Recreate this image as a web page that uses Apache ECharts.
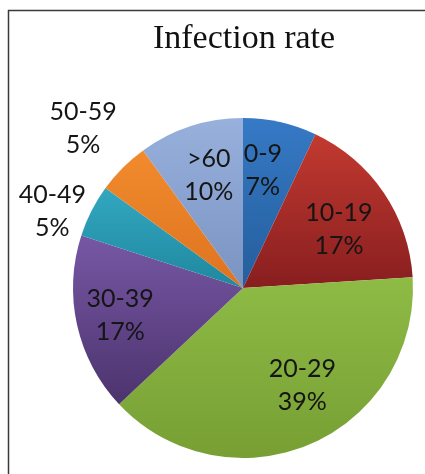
<!DOCTYPE html>
<html>
<head>
<meta charset="utf-8">
<script src="https://cdn.jsdelivr.net/npm/echarts@6/dist/echarts.min.js"></script>
<style>
html,body{margin:0;padding:0;background:#fff;}
#chart{width:425px;height:474px;}
</style>
</head>
<body>
<div id="chart"></div>
<script>
// ---- data ----
var categories = ['0-9', '10-19', '20-29', '30-39', '40-49', '50-59', '>60'];
var values = [7, 17, 39, 17, 5, 5, 10];
var titleText = 'Infection rate';

// ---- styles ----
var colorTop = ['#3679C5', '#C23A30', '#8EBB46', '#7757A5', '#33A7C0', '#F18B2D', '#97B0DC'];
var colorBottom = ['#245E9C', '#881E1F', '#779F33', '#4C336D', '#1E889F', '#DE7320', '#7A93C1'];
// label placement: [radius factor, angle shift in degrees]
var labelPlace = [[0.70, -3], [0.66, 3], [0.67, -8], [0.74, 0], [1.21, -5], [1.33, 0], [0.69, 1]];

var CX = 243, CY = 288, R = 170;

var total = values.reduce(function (a, b) { return a + b; }, 0);
var midAngles = [];
var acc = 0;
for (var i = 0; i < values.length; i++) {
  midAngles.push((acc + values[i] / 2) / total * 360);
  acc += values[i];
}

var chart = echarts.init(document.getElementById('chart'), null, {renderer: 'canvas'});
var seriesData = categories.map(function (c, i) {
  return {
    name: c,
    value: values[i],
    itemStyle: {
      color: new echarts.graphic.LinearGradient(0, 0, 0, 1, [
        {offset: 0, color: colorTop[i]},
        {offset: 1, color: colorBottom[i]}
      ])
    }
  };
});

chart.setOption({
  animation: false,
  title: {
    text: titleText,
    left: CX - 4,
    textAlign: 'center',
    top: 17,
    textStyle: {
      fontFamily: 'Liberation Serif',
      fontSize: 34,
      fontWeight: 'normal',
      color: '#111'
    }
  },
  graphic: [
    {type: 'line', shape: {x1: 8, y1: 10.5, x2: 425, y2: 10.5}, style: {stroke: '#3a3a3a', lineWidth: 1.5}},
    {type: 'line', shape: {x1: 8.5, y1: 10, x2: 8.5, y2: 474}, style: {stroke: '#3a3a3a', lineWidth: 1.5}}
  ],
  series: [{
    type: 'pie',
    center: [CX, CY],
    radius: [0, R],
    startAngle: 90,
    clockwise: true,
    data: seriesData,
    label: {
      show: true,
      position: 'inside',
      formatter: function (p) { return p.name + '\n' + p.value + '%'; },
      fontFamily: 'Lato',
      fontSize: 25,
      lineHeight: 33,
      color: '#151515'
    },
    labelLine: {show: false},
    labelLayout: function (params) {
      var i = params.dataIndex;
      var a = (midAngles[i] + labelPlace[i][1]) * Math.PI / 180;
      var d = labelPlace[i][0] * R;
      return {
        x: CX + d * Math.sin(a),
        y: CY - d * Math.cos(a),
        align: 'center',
        verticalAlign: 'middle'
      };
    },
    emphasis: {disabled: true}
  }]
});
</script>
</body>
</html>
